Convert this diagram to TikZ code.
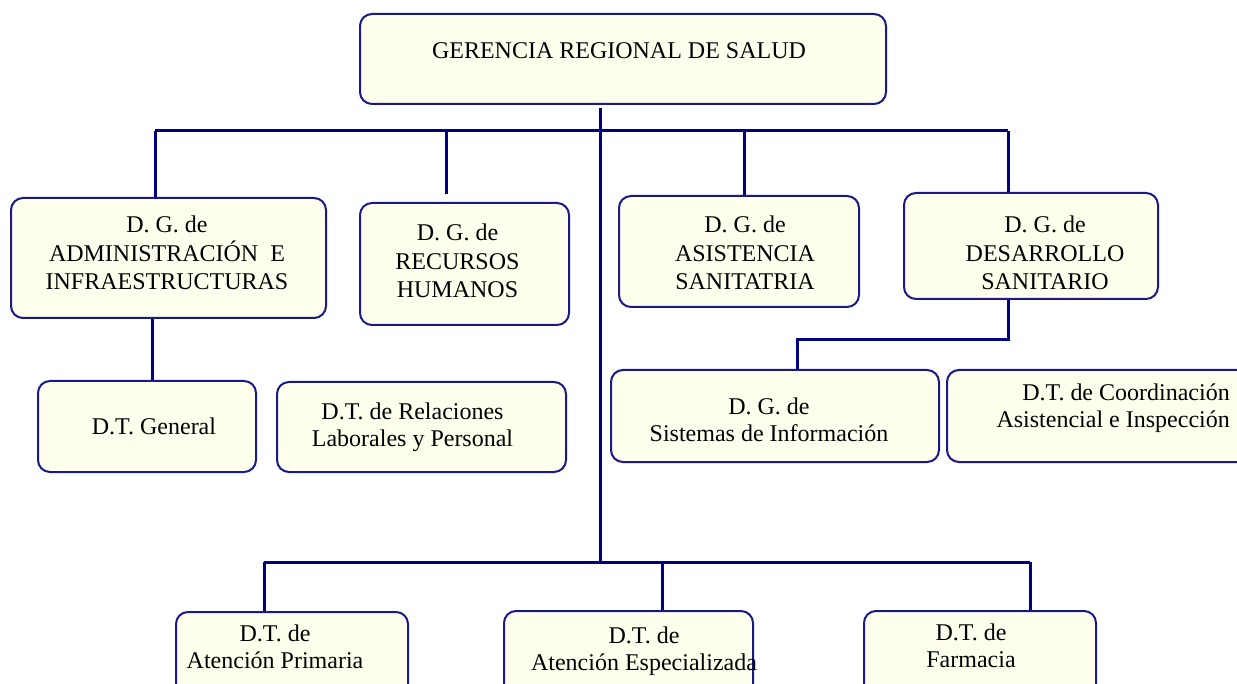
\documentclass[tikz,border=0pt]{standalone}
\usepackage{fontspec}
\setmainfont{Liberation Serif}
\definecolor{navy}{RGB}{0,0,128}
\definecolor{boxline}{RGB}{25,25,135}
\definecolor{ivory}{RGB}{255,255,238}
\begin{document}
\begin{tikzpicture}[x=1pt,y=-1pt,
  box/.style={draw=boxline, line width=2pt, fill=ivory, rounded corners=12pt, inner sep=0pt},
  conn/.style={draw=navy, line width=3pt},
  txt/.style={font=\fontsize{24}{28.5}\selectfont, align=center, inner sep=0pt, text=black},
  txtb/.style={txt, font=\fontsize{24}{27}\selectfont}]
\useasboundingbox (0,0) rectangle (1237,684);
\clip (0,0) rectangle (1237,684);
\fill[white] (0,0) rectangle (1237,684);
% boxes
\node[box, minimum width=526pt, minimum height=90pt] (ger) at (623,59) {};
\node[box, minimum width=315pt, minimum height=120pt] (adm) at (168.5,258) {};
\node[box, minimum width=209pt, minimum height=122pt] (rh) at (464.5,264) {};
\node[box, minimum width=240pt, minimum height=111pt] (asis) at (739,251.5) {};
\node[box, minimum width=254pt, minimum height=106pt] (des) at (1031,246) {};
\node[box, minimum width=218pt, minimum height=91pt] (dtg) at (147,426.5) {};
\node[box, minimum width=289pt, minimum height=90pt] (rel) at (421.5,427) {};
\node[box, minimum width=328pt, minimum height=92pt] (sis) at (775,416) {};
\node[box, minimum width=320pt, minimum height=92pt] (coord) at (1107,416) {};
\node[box, minimum width=232pt, minimum height=100pt] (ap) at (292,662) {};
\node[box, minimum width=249pt, minimum height=100pt] (esp) at (628.5,661) {};
\node[box, minimum width=232pt, minimum height=100pt] (farm) at (980,661) {};
% texts
\node[txt] (tger) at (619,51) {GERENCIA REGIONAL DE SALUD};
\node[txt] (tadm) at (167,253) {D. G. de\\ADMINISTRACIÓN\ \ E\\INFRAESTRUCTURAS};
\node[txt] (trh) at (457.5,261) {D. G. de\\RECURSOS\\HUMANOS};
\node[txt] (tasis) at (745,253) {D. G. de\\ASISTENCIA\\SANITATRIA};
\node[txt] (tdes) at (1045,253) {D. G. de\\DESARROLLO\\SANITARIO};
\node[txt] (tdtg) at (154,426) {D.T. General};
\node[txtb] (trel) at (412.5,427) {D.T. de Relaciones\\Laborales y Personal};
\node[txtb] (tsis) at (769,420) {D. G. de\\Sistemas de Información};
\node[txtb, align=right, anchor=east] (tcoord) at (1230,408) {D.T. de Coordinación\\Asistencial e Inspección};
\node[txtb] (tap) at (275,647) {D.T. de\\Atención Primaria};
\node[txtb] (tesp) at (644,651) {D.T. de\\Atención Especializada};
\node[txtb] (tfarm) at (971,646) {D.T. de\\Farmacia};
% connectors
\coordinate (busL) at (155,131);
\coordinate (busR) at (1008,131);
\coordinate (jrh) at (446,131);
\coordinate (rhend) at (446,194);
\coordinate (jasis) at (744,131);
\coordinate (trunk) at (600,562);
\coordinate (bbL) at (264,562);
\coordinate (bbR) at (1030,562);
\coordinate (jesp) at (662,562);
\coordinate (dbus) at (1010,340);
\coordinate (dsis) at (797,340);
\draw[conn] (busL) -- (busR);
\draw[conn] (busL) -- (busL |- adm.north);
\draw[conn] (jrh) -- (rhend);
\draw[conn] (jasis) -- (jasis |- asis.north);
\draw[conn] (busR) -- (busR |- des.north);
\draw[conn] (trunk |- ger.south) ++(0,3) -- (trunk);
\draw[conn] (bbL) -- (bbR);
\draw[conn] (bbL) -- (bbL |- ap.north);
\draw[conn] (jesp) -- (jesp |- esp.north);
\draw[conn] (bbR) -- (bbR |- farm.north);
\draw[conn] (152,0 |- adm.south) -- (152,0 |- dtg.north);
\draw[conn] (busR |- des.south) -- (busR |- dbus) -- (dsis) -- (dsis |- sis.north);
\end{tikzpicture}
\end{document}
